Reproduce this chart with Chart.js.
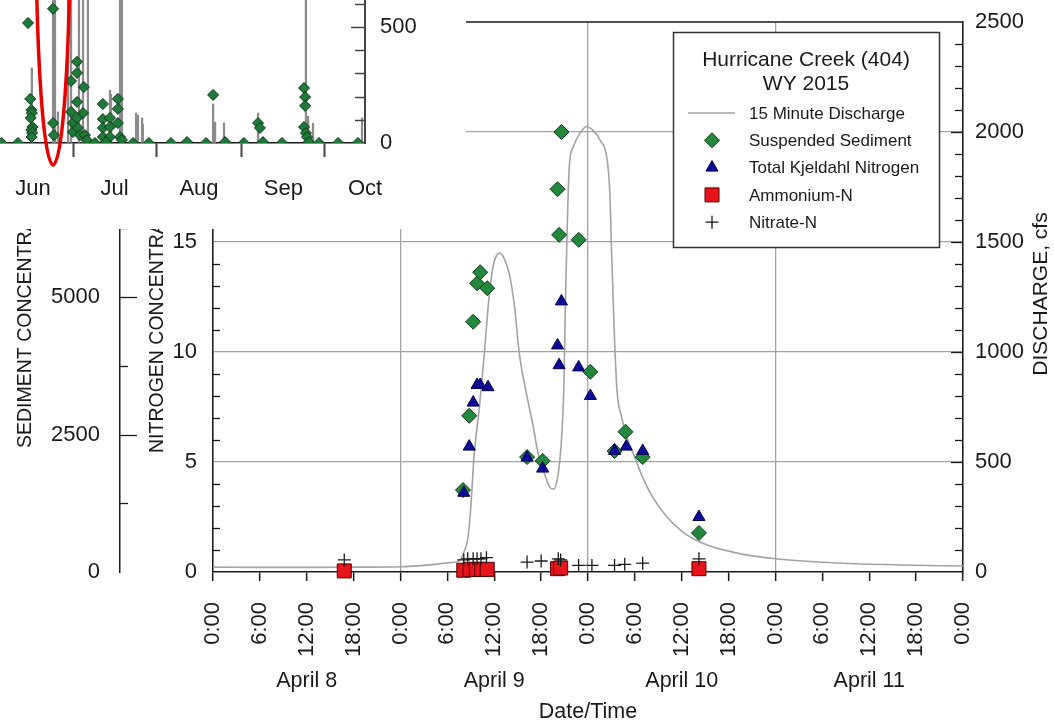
<!DOCTYPE html>
<html>
<head>
<meta charset="utf-8">
<script src="https://cdn.jsdelivr.net/npm/chart.js@4.4.1/dist/chart.umd.min.js"></script>
<style>
  html, body { margin: 0; padding: 0; background: #fff; }
  #wrap { position: relative; width: 1054px; height: 722px; overflow: hidden; }
  #main { position: absolute; left: 0; top: 0; }
  #inset { position: absolute; left: 0; top: 0; background: #fff; }
</style>
</head>
<body>
<div id="wrap">
  <canvas id="main" width="1054" height="722"></canvas>
  <canvas id="inset" width="466" height="229"></canvas>
</div>
<script>
// ---- storm event, hours after April 8 0:00 ----
const flowHours = [0, 6, 12, 18, 24, 27, 29, 30.5, 31.5, 32.1, 32.6, 33.0, 33.4, 34.1, 34.7, 35.3, 35.8, 36.3, 36.7, 37.2,
  37.9, 38.6, 39.2, 40.1, 41.0, 41.6, 42.4, 43.1, 43.6, 44.2, 44.6, 44.9, 45.1, 45.3, 45.6, 46.1, 46.9, 47.8, 48.7, 49.6,
  50.4, 50.8, 51.0, 51.3, 51.7, 52.3, 53.0, 54.0, 55.0, 56.2, 58.0, 60.2, 62.6, 66.8, 72, 80, 88, 96];
const flowCfs = [22, 21, 21, 22, 24, 30, 37, 43, 50, 90, 150, 295, 520, 750, 980, 1236, 1380, 1440, 1450, 1430,
  1360, 1205, 995, 814, 659, 541, 450, 386, 377, 450, 600, 827, 1205, 1509, 1841, 1930, 1990, 2025, 2005, 1960,
  1886, 1720, 1480, 1150, 830, 705, 610, 520, 430, 345, 255, 180, 132, 88, 60, 41, 32, 27];

const ssHours = [32.0, 32.8, 33.3, 33.8, 34.2, 35.1, 40.2, 42.2, 44.1, 44.3, 44.6, 46.8, 48.3, 51.4, 52.8, 55.0, 62.2];
const ssMgL = [1490, 2840, 4550, 5250, 5450, 5160, 2090, 2020, 6960, 6130, 8000, 6040, 3640, 2200, 2550, 2090, 710];

const tknHours = [32.1, 32.8, 33.3, 33.8, 34.2, 35.2, 40.2, 42.2, 44.1, 44.3, 44.6, 46.8, 48.3, 51.4, 52.9, 55.0, 62.2];
const tknMgL = [3.6, 5.7, 7.7, 8.5, 8.5, 8.4, 5.2, 4.7, 10.3, 9.4, 12.3, 9.3, 8.0, 5.5, 5.7, 5.5, 2.5];

const nh4Hours = [16.8, 32.1, 32.9, 33.7, 34.4, 35.1, 44.1, 44.5, 62.2];
const nh4MgL = [0.05, 0.08, 0.12, 0.12, 0.12, 0.12, 0.15, 0.18, 0.15];

const no3Hours = [16.8, 32.1, 32.6, 33.3, 33.8, 34.3, 35.0, 40.2, 42.0, 44.2, 44.5, 46.8, 48.5, 51.4, 52.7, 55.0, 62.2];
const no3MgL = [0.55, 0.55, 0.6, 0.6, 0.6, 0.6, 0.65, 0.45, 0.5, 0.6, 0.55, 0.3, 0.3, 0.3, 0.35, 0.4, 0.6];

const hourTicks = [0, 6, 12, 18, 24, 30, 36, 42, 48, 54, 60, 66, 72, 78, 84, 90, 96];
const dayLabels = ['April 8', 'April 9', 'April 10', 'April 11'];
const nitrogenTicks = [0, 5, 10, 15, 20, 25];
const sedimentTicks = [0, 2500, 5000];
const dischargeTicks = [0, 500, 1000, 1500, 2000, 2500];

// ---- inset: summer 2015, days after June 1 ----
const insetMonths = ['Jun', 'Jul', 'Aug', 'Sep', 'Oct'];
const insetMonthDays = [0, 30, 61, 92, 122];
const insetFlowDays = [-0.4, 7.4, 8.1, 9.2, 12.9, 14.0, 16.9, 18.4, 20.2, 28.3, 28.7, 32.0, 32.7, 37.9, 38.6, 40.1, 40.4,
  66.2, 66.9, 70.2, 82.7, 100.3, 101.1, 102.9, 120.9];
const insetFlowCfs = [323, 900, 800, 134, 700, 750, 800, 700, 900, 228, 210, 900, 750, 129, 120, 108, 80,
  168, 90, 86, 129, 900, 115, 85, 108];
const insetSsDays = [-11.5, -5.5, -1.8, -1.0, -0.6, -0.4, -0.8, -0.2, -0.6, -0.3, -0.5, 7.4, 7.4, 7.7,
  14.0, 16.2, 16.2, 18.7, 14.0, 16.2, 18.4, 14.7, 16.2, 14.7, 16.5, 17.3, 19.1, 19.8, 22.8,
  25.7, 25.7, 28.3, 25.7, 28.3, 25.7, 28.3, 26.8, 31.2, 31.2, 31.2, 32.0, 32.7,
  36.8, 42.6, 50.7, 56.6, 63.6, 66.2, 70.6, 77.5, 82.7, 83.4, 84.5, 91.5,
  99.6, 100.0, 100.0, 99.6, 100.3, 100.7, 101.4, 105.1, 112.1, 119.4];
const insetSsVals = [0, 0, 517, 190, 142, 129, 108, 69, 56, 43, 26, 578, 86, 34,
  267, 350, 302, 241, 134, 177, 129, 86, 108, 47, 65, 34, 34, 13, 0,
  168, 103, 108, 65, 69, 26, 26, 4, 190, 147, 86, 26, 13,
  0, 0, 0, 4, 0, 207, 4, 0, 86, 65, 4, 0,
  237, 198, 160, 69, 43, 26, 4, 0, 0, 0];

const FONT = '"Liberation Sans", Arial, Helvetica, sans-serif';
const INK = '#1a1a1a';
const GRID = '#a3a3a3';
const GREEN = '#23883d', GREEN_EDGE = '#0e3b18';
const BLUE = '#0c0c98', BLUE_EDGE = '#04044a';
const RED = '#e8141b', RED_EDGE = '#5a0000';

function pts(xs, ys) {
  return xs.map((x, i) => ({ x: x, y: ys[i] }));
}

// force an axis box to an exact size, with no extra label padding
function fixSize(w, h) {
  return s => {
    if (w !== null) s.width = w;
    if (h !== null) s.height = h;
    s.paddingTop = 0; s.paddingBottom = 0; s.paddingLeft = 0; s.paddingRight = 0;
  };
}

function marker(ctx, style, x, y, r, fill, edge) {
  ctx.save();
  ctx.fillStyle = fill;
  ctx.strokeStyle = edge;
  ctx.lineWidth = 1;
  ctx.beginPath();
  if (style === 'diamond') {
    ctx.moveTo(x, y - r); ctx.lineTo(x + r, y); ctx.lineTo(x, y + r); ctx.lineTo(x - r, y);
    ctx.closePath(); ctx.fill(); ctx.stroke();
  } else if (style === 'triangle') {
    ctx.moveTo(x, y - r); ctx.lineTo(x + 0.866 * r, y + 0.5 * r); ctx.lineTo(x - 0.866 * r, y + 0.5 * r);
    ctx.closePath(); ctx.fill(); ctx.stroke();
  } else if (style === 'square') {
    ctx.rect(x - r, y - r, 2 * r, 2 * r); ctx.fill(); ctx.stroke();
  } else if (style === 'cross') {
    ctx.lineWidth = 1.3;
    ctx.moveTo(x - r, y); ctx.lineTo(x + r, y); ctx.moveTo(x, y - r); ctx.lineTo(x, y + r); ctx.stroke();
  } else if (style === 'line') {
    ctx.strokeStyle = fill; ctx.lineWidth = 1.6;
    ctx.moveTo(x - 24, y); ctx.lineTo(x + 23, y); ctx.stroke();
  }
  ctx.restore();
}

const mainDecor = {
  id: 'mainDecor',
  afterDraw(chart) {
    const ctx = chart.ctx;
    const a = chart.chartArea;
    const sx = chart.scales.x, sn = chart.scales.n, ss = chart.scales.s, sq = chart.scales.q;
    ctx.save();
    ctx.strokeStyle = INK;

    // top frame
    ctx.lineWidth = 1.5;
    ctx.beginPath(); ctx.moveTo(a.left, a.top); ctx.lineTo(a.right, a.top); ctx.stroke();

    // inward tick marks
    ctx.lineWidth = 1.3;
    for (let v = 1250; v <= 10000; v += 1250) {
      const y = Math.round(ss.getPixelForValue(v)) + 0.5;
      const len = v % 2500 === 0 ? 17 : 8;
      ctx.beginPath(); ctx.moveTo(ss.right, y); ctx.lineTo(ss.right + len, y); ctx.stroke();
    }
    for (let v = 1; v < 25; v++) {
      if (v % 5 === 0) continue;
      const y = Math.round(sn.getPixelForValue(v)) + 0.5;
      ctx.beginPath(); ctx.moveTo(sn.right, y); ctx.lineTo(sn.right + 7, y); ctx.stroke();
    }
    for (let v = 100; v < 2500; v += 100) {
      const y = Math.round(sq.getPixelForValue(v)) + 0.5;
      const len = v % 500 === 0 ? 12 : 8;
      ctx.beginPath(); ctx.moveTo(sq.left, y); ctx.lineTo(sq.left - len, y); ctx.stroke();
    }

    // axis titles
    ctx.fillStyle = INK;
    ctx.font = '19.5px ' + FONT;
    ctx.textBaseline = 'middle';
    const rotText = (text, x, y, align) => {
      ctx.save(); ctx.translate(x, y); ctx.rotate(-Math.PI / 2);
      ctx.textAlign = align; ctx.fillText(text, 0, 0); ctx.restore();
    };
    rotText('SEDIMENT CONCENTRATION, mg/L', 26, 448, 'left');
    rotText('NITROGEN CONCENTRATION, mg/L', 158, 453, 'left');
    ctx.font = '21px ' + FONT;
    rotText('DISCHARGE, cfs', 1041, 294, 'center');

    // day labels and x title
    ctx.font = '21.5px ' + FONT;
    ctx.textAlign = 'center';
    dayLabels.forEach((d, i) => {
      ctx.fillText(d, sx.getPixelForValue(12 + 24 * i), 681);
    });
    ctx.fillText('Date/Time', (a.left + a.right) / 2, 712);

    // legend box
    const bx = 673, by = 32, bw = 266, bh = 215;
    ctx.fillStyle = '#fff';
    ctx.fillRect(bx, by, bw, bh);
    ctx.strokeStyle = '#333'; ctx.lineWidth = 1.5;
    ctx.strokeRect(bx + 0.5, by + 0.5, bw, bh);
    ctx.fillStyle = INK;
    ctx.font = '21px ' + FONT;
    ctx.fillText('Hurricane Creek (404)', bx + bw / 2, 60);
    ctx.fillText('WY 2015', bx + bw / 2, 84);
    const rows = [
      ['line', '15 Minute Discharge', '#a3a3a3', '#a3a3a3', 0],
      ['diamond', 'Suspended Sediment', GREEN, GREEN_EDGE, 7.5],
      ['triangle', 'Total Kjeldahl Nitrogen', BLUE, BLUE_EDGE, 7],
      ['square', 'Ammonium-N', RED, RED_EDGE, 7],
      ['cross', 'Nitrate-N', INK, INK, 6.5]
    ];
    ctx.font = '17px ' + FONT;
    ctx.textAlign = 'left';
    rows.forEach((r, i) => {
      const y = 113 + i * 27.3;
      marker(ctx, r[0], 712, y, r[4], r[2], r[3]);
      ctx.fillStyle = INK;
      ctx.fillText(r[1], 749, y + 1);
    });
    ctx.restore();
  }
};

const tickFont = { family: FONT, size: 22 };
const plain = v => String(v);

new Chart(document.getElementById('main'), {
  type: 'scatter',
  data: {
    datasets: [
      {
        label: 'Nitrate-N', data: pts(no3Hours, no3MgL), yAxisID: 'n',
        pointStyle: 'cross', pointRadius: 6.5, borderColor: INK, borderWidth: 1.3, order: 1, clip: false
      },
      {
        label: 'Ammonium-N', data: pts(nh4Hours, nh4MgL), yAxisID: 'n',
        pointStyle: 'rect', pointRadius: 9.9, backgroundColor: RED, borderColor: RED_EDGE, borderWidth: 1, order: 2, clip: false
      },
      {
        label: 'Total Kjeldahl Nitrogen', data: pts(tknHours, tknMgL), yAxisID: 'n',
        pointStyle: 'triangle', pointRadius: 7, backgroundColor: BLUE, borderColor: BLUE_EDGE, borderWidth: 1, order: 3
      },
      {
        label: 'Suspended Sediment', data: pts(ssHours, ssMgL), yAxisID: 's',
        pointStyle: 'rectRot', pointRadius: 7.5, backgroundColor: GREEN, borderColor: GREEN_EDGE, borderWidth: 1, order: 4
      },
      {
        label: '15 Minute Discharge', type: 'line', data: pts(flowHours, flowCfs), yAxisID: 'q',
        showLine: true, pointRadius: 0, borderColor: '#a3a3a3', borderWidth: 1.6,
        cubicInterpolationMode: 'monotone', fill: false, order: 5
      }
    ]
  },
  options: {
    responsive: false,
    animation: false,
    layout: { padding: { top: 22, left: 0, right: 0, bottom: 0 }, autoPadding: false },
    plugins: { legend: { display: false }, tooltip: { enabled: false } },
    scales: {
      x: {
        type: 'linear', position: 'bottom', min: 0, max: 96, offset: false,
        afterBuildTicks: s => { s.ticks = hourTicks.map(v => ({ value: v })); },
        ticks: {
          callback: v => (v % 24) + ':00', minRotation: 90, maxRotation: 90, autoSkip: false,
          font: tickFont, color: INK, padding: 21
        },
        grid: {
          color: c => (c.tick && c.tick.value % 24 === 0) ? GRID : 'rgba(0,0,0,0)',
          lineWidth: 1.3, tickColor: INK, tickLength: 9, tickWidth: 1.5
        },
        border: { color: INK, width: 1.5 },
        afterFit: fixSize(null, 150)
      },
      n: {
        type: 'linear', position: 'left', weight: 0, min: 0, max: 25,
        afterBuildTicks: s => { s.ticks = nitrogenTicks.map(v => ({ value: v })); },
        ticks: { callback: v => (v <= 15 ? String(v) : ''), font: tickFont, color: INK, padding: 16 },
        grid: {
          color: c => (c.tick && c.tick.value > 0 && c.tick.value < 25) ? GRID : 'rgba(0,0,0,0)',
          lineWidth: 1.3, drawTicks: false
        },
        border: { color: INK, width: 1.5 },
        afterFit: fixSize(93, null)
      },
      s: {
        type: 'linear', position: 'left', weight: 1, min: 0, max: 10000,
        afterBuildTicks: s => { s.ticks = sedimentTicks.map(v => ({ value: v })); },
        ticks: { callback: plain, font: tickFont, color: INK, padding: 20 },
        grid: { drawOnChartArea: false, drawTicks: false },
        border: { color: INK, width: 1.5 },
        afterFit: fixSize(120, null)
      },
      q: {
        type: 'linear', position: 'right', min: 0, max: 2500,
        afterBuildTicks: s => { s.ticks = dischargeTicks.map(v => ({ value: v })); },
        ticks: { callback: plain, font: tickFont, color: INK, padding: 12 },
        grid: { drawOnChartArea: false, drawTicks: false },
        border: { color: INK, width: 1.5 },
        afterFit: fixSize(91, null)
      }
    }
  },
  plugins: [mainDecor]
});

// inset hydrograph with the red highlight
const insetDecor = {
  id: 'insetDecor',
  afterDraw(chart) {
    const ctx = chart.ctx;
    const sx = chart.scales.x, sy = chart.scales.y;
    ctx.save();
    ctx.strokeStyle = '#444';
    ctx.lineWidth = 1.5;
    for (let v = 100; v <= 600; v += 100) {
      const y = Math.round(sy.getPixelForValue(v)) + 0.5;
      const len = v === 500 ? 14 : 10;
      ctx.beginPath(); ctx.moveTo(sy.left, y); ctx.lineTo(sy.left - len, y); ctx.stroke();
    }
    const cx = sx.getPixelForValue(7.4);
    const bottom = sy.getPixelForValue(0) + 22;
    const ry = 240, rx = 17;
    ctx.strokeStyle = '#e60000';
    ctx.lineWidth = 3.5;
    ctx.beginPath();
    ctx.ellipse(cx, bottom - ry, rx, ry, 0, 0, Math.PI * 2);
    ctx.stroke();
    ctx.restore();
  }
};

new Chart(document.getElementById('inset'), {
  type: 'scatter',
  data: {
    datasets: [
      {
        type: 'bar', data: pts(insetFlowDays, insetFlowCfs),
        backgroundColor: '#8c8c8c', barThickness: 1.6, order: 2
      },
      {
        data: pts(insetSsDays, insetSsVals), pointStyle: 'rectRot', pointRadius: 5.5,
        backgroundColor: '#1f7a3a', borderColor: '#0c3516', borderWidth: 1, order: 1
      }
    ]
  },
  options: {
    responsive: false,
    animation: false,
    layout: { padding: 0, autoPadding: false },
    plugins: { legend: { display: false }, tooltip: { enabled: false } },
    scales: {
      x: {
        type: 'linear', min: -12.1, max: 122, offset: false,
        afterBuildTicks: s => { s.ticks = insetMonthDays.map(v => ({ value: v })); },
        ticks: { callback: v => insetMonths[insetMonthDays.indexOf(v)], font: tickFont, color: INK, padding: 19, maxRotation: 0 },
        grid: { drawOnChartArea: false, tickLength: 14, tickColor: '#444', tickWidth: 2 },
        border: { color: INK, width: 1.5 },
        afterFit: fixSize(null, 86)
      },
      y: {
        type: 'linear', position: 'right', min: 0, max: 616,
        afterBuildTicks: s => { s.ticks = [0, 500].map(v => ({ value: v })); },
        ticks: { callback: plain, font: tickFont, color: INK, padding: 15 },
        grid: { drawOnChartArea: false, drawTicks: false },
        border: { color: '#444', width: 2 },
        afterFit: fixSize(101, null)
      }
    }
  },
  plugins: [insetDecor]
});
</script>
</body>
</html>
